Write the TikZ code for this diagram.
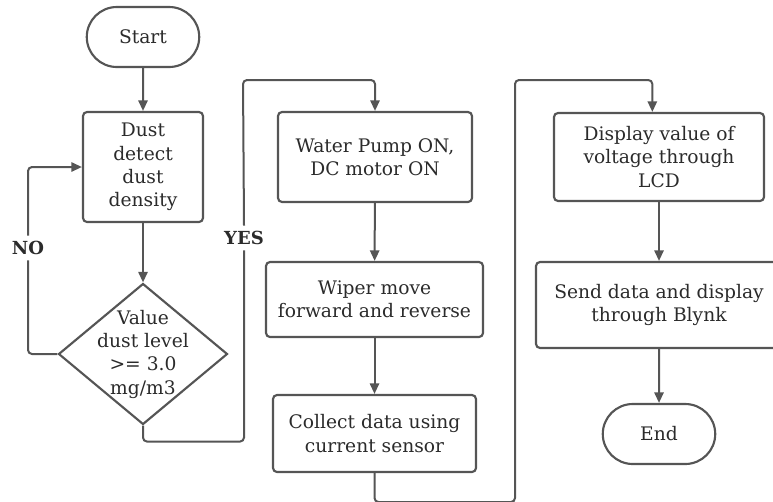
\documentclass[tikz,border=0pt]{standalone}
\usepackage{fontspec}
\setmainfont{DejaVu Serif}
\usepackage{tikz}
\usetikzlibrary{shapes.geometric, shapes.misc, arrows.meta}

\definecolor{linegray}{HTML}{555555}
\definecolor{textgray}{HTML}{2B2B2B}

\begin{document}
\begin{tikzpicture}[x=0.75pt, y=-0.75pt,
    every node/.style={text=textgray, font=\fontsize{14}{17.5}\selectfont, align=center},
    proc/.style={draw=linegray, line width=1.6pt, fill=white, rounded corners=3pt, inner sep=2pt},
    term/.style={draw=linegray, line width=1.6pt, fill=white, rounded rectangle, minimum width=91pt, minimum height=45pt},
    decision/.style={draw=linegray, line width=1.6pt, fill=white, diamond, inner sep=0pt, minimum width=126.75pt, minimum height=105.75pt},
    answer/.style={font=\fontsize{13.5}{18}\bfseries\selectfont, inner sep=4pt},
    flow/.style={draw=linegray, line width=1.5pt, rounded corners=3pt},
    >={Triangle[length=8pt, width=7pt]}]
    \useasboundingbox (0,0) rectangle (773,501);
    \clip (0,0) rectangle (773,501);

    \node[term] at (143, 37) (start) {Start};
    \node[proc, minimum width=90pt, minimum height=82.5pt] at (143, 167) (dust) {Dust\\detect\\dust\\density};
    \node[decision] at (143, 354) (check) {};
    \node at (143, 354) {Value\\dust level\\>= 3.0\\mg/m3};
    \node[answer] at (28, 248) (no) {NO};
    \node[answer] at (244, 238) (yes) {YES};

    \node[proc, minimum width=145.5pt, minimum height=67.5pt] at (375, 157) (pump) {Water Pump ON,\\DC motor ON};
    \node[proc, minimum width=162.75pt, minimum height=56.25pt] at (374.5, 299.5) (wiper) {Wiper move\\forward and reverse};
    \node[proc, minimum width=152.25pt, minimum height=57.75pt] at (374.5, 433.5) (collect) {Collect data using\\current sensor};

    \node[proc, minimum width=157.5pt, minimum height=66pt] at (659, 157) (display) {Display value of\\voltage through\\LCD};
    \node[proc, minimum width=184.5pt, minimum height=64.5pt] at (659, 305) (blynk) {Send data and display\\through Blynk};
    \node[term] at (659, 434) (end) {End};

    \coordinate (yestop) at (243, 80);
    \coordinate (lowturn) at (515, 502);
    \coordinate (hightop) at (515, 80);

    \draw[flow, ->] (start) -- (dust);
    \draw[flow, ->] (dust) -- (check);
    \draw[flow] (check.west) -| (no.south);
    \draw[flow, ->] (no.north) |- (dust.west);
    \draw[flow] (check.south) -- ++(0, 16) -| (yes.south);
    \draw[flow, ->] (yes.north) -- (yestop) -| (pump.north);
    \draw[flow, ->] (pump) -- (wiper);
    \draw[flow, ->] (wiper) -- (collect);
    \draw[flow, ->] (collect.south) |- (lowturn) -- (hightop) -| ([xshift=-5pt]display.north);
    \draw[flow, ->] (display) -- (blynk);
    \draw[flow, ->] (blynk) -- (end);
\end{tikzpicture}
\end{document}
